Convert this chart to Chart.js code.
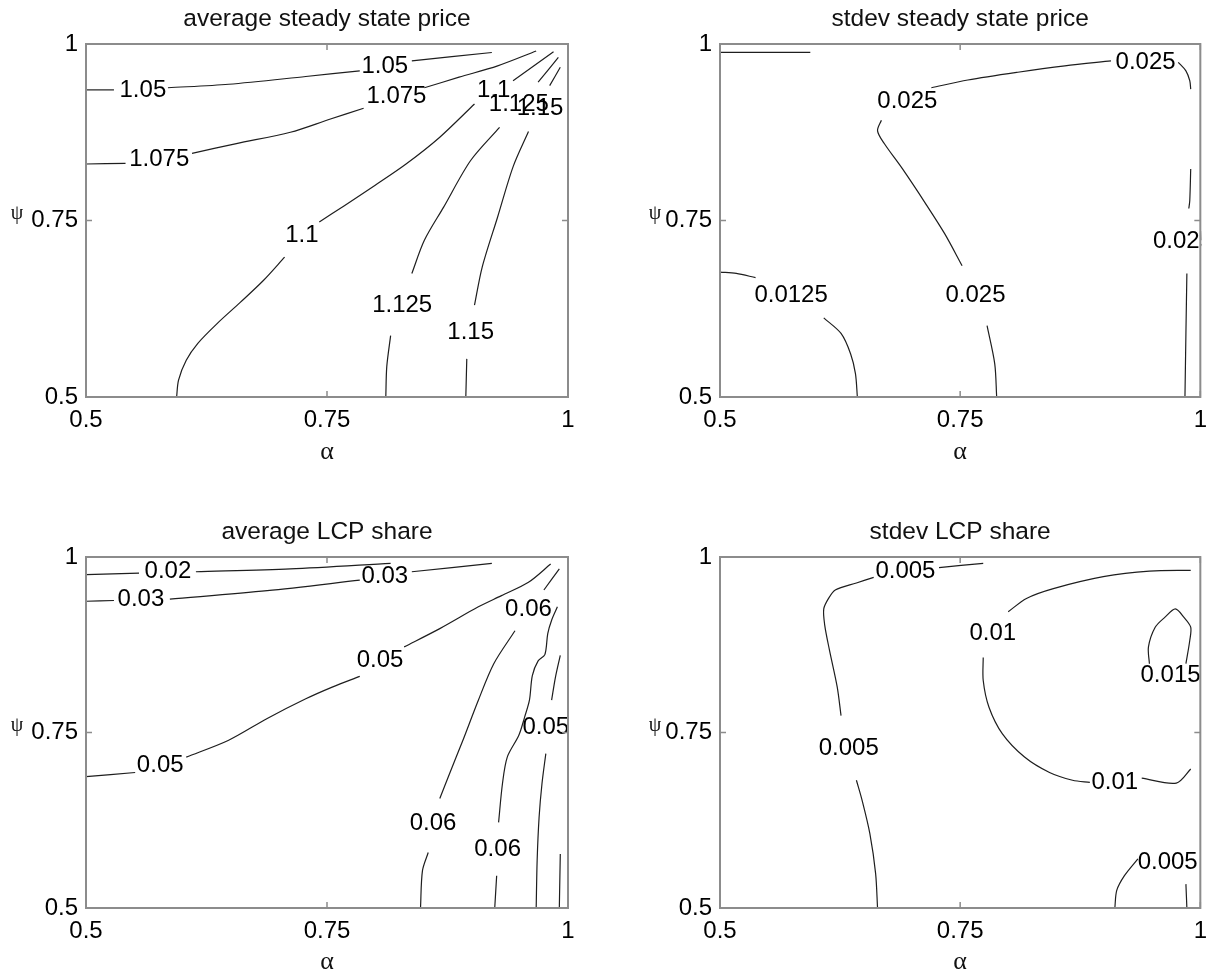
<!DOCTYPE html>
<html>
<head>
<meta charset="utf-8">
<script src="https://cdn.jsdelivr.net/npm/chart.js@4.4.1/dist/chart.umd.min.js"></script>
<style>
  html, body { margin: 0; padding: 0; background: #fff; }
  #wrap { position: relative; width: 1216px; height: 974px; }
  canvas { position: absolute; }
</style>
</head>
<body>
<div id="wrap">
  <canvas id="c1" width="608" height="487" style="left:0;top:0"></canvas>
  <canvas id="c2" width="608" height="487" style="left:608px;top:0"></canvas>
  <canvas id="c3" width="608" height="487" style="left:0;top:487px"></canvas>
  <canvas id="c4" width="608" height="487" style="left:608px;top:487px"></canvas>
</div>
<script>
// axes: alpha (x) and psi (y)
const alphaTicks = [0.5, 0.75, 1];
const psiTicks = [0.5, 0.75, 1];
const tickText = ['0.5', '0.75', '1'];

// --- average steady state price: contour segments [alpha, psi], broken where labels sit ---
const price105 = [
  [[0.5, 0.935], [0.529, 0.935]],
  [[0.585, 0.938], [0.648, 0.943], [0.728, 0.954], [0.784, 0.962]],
  [[0.838, 0.976], [0.921, 0.988]]
];
const price1075 = [
  [[0.5, 0.830], [0.541, 0.831]],
  [[0.610, 0.845], [0.656, 0.859], [0.712, 0.875], [0.752, 0.893], [0.788, 0.909]],
  [[0.851, 0.938], [0.887, 0.953], [0.927, 0.969], [0.967, 0.990]]
];
const price110 = [
  [[0.594, 0.5], [0.596, 0.524], [0.604, 0.552], [0.616, 0.576], [0.636, 0.604], [0.660, 0.634], [0.684, 0.665], [0.706, 0.698]],
  [[0.742, 0.748], [0.768, 0.771], [0.800, 0.800], [0.832, 0.830], [0.867, 0.868], [0.903, 0.915]],
  [[0.943, 0.948], [0.985, 0.989]]
];
const price1125 = [
  [[0.811, 0.5], [0.812, 0.543], [0.816, 0.587]],
  [[0.838, 0.675], [0.851, 0.722], [0.871, 0.769], [0.899, 0.835], [0.929, 0.882]],
  [[0.969, 0.946], [0.990, 0.981]]
];
const price115 = [
  [[0.894, 0.5], [0.895, 0.554]],
  [[0.903, 0.630], [0.911, 0.684], [0.927, 0.755], [0.943, 0.826], [0.959, 0.876]],
  [[0.981, 0.941], [0.992, 0.967]]
];
const priceLabels = [
  ['1.05', 0.559, 0.935], ['1.05', 0.810, 0.969],
  ['1.075', 0.576, 0.837], ['1.075', 0.822, 0.926],
  ['1.1', 0.724, 0.729], ['1.1', 0.923, 0.935],
  ['1.125', 0.828, 0.630], ['1.125', 0.949, 0.915],
  ['1.15', 0.899, 0.592], ['1.15', 0.971, 0.909]
];

// --- stdev steady state price ---
const sdPriceTop = [
  [[0.5, 0.988], [0.594, 0.988]]
];
const sdPrice0125 = [
  [[0.5, 0.677], [0.517, 0.675], [0.537, 0.669]],
  [[0.608, 0.612], [0.626, 0.590], [0.636, 0.561], [0.641, 0.533], [0.643, 0.5]]
];
const sdPrice025 = [
  [[0.788, 0.5], [0.786, 0.547], [0.778, 0.601]],
  [[0.752, 0.686], [0.734, 0.731], [0.714, 0.774], [0.690, 0.823], [0.671, 0.859], [0.664, 0.877], [0.668, 0.892]],
  [[0.720, 0.938], [0.758, 0.949], [0.810, 0.960], [0.859, 0.969], [0.907, 0.976]],
  [[0.977, 0.974], [0.985, 0.962], [0.989, 0.948], [0.990, 0.936]]
];
const sdPrice025Right = [
  [[0.990, 0.823], [0.989, 0.778], [0.988, 0.767]],
  [[0.986, 0.675], [0.985, 0.590], [0.984, 0.5]]
];
const sdPriceLabels = [
  ['0.0125', 0.574, 0.644], ['0.025', 0.766, 0.644], ['0.025', 0.695, 0.919],
  ['0.025', 0.943, 0.974], ['0.025', 0.982, 0.721]
];

// --- average LCP share ---
const lcp002 = [
  [[0.5, 0.975], [0.555, 0.977]],
  [[0.614, 0.979], [0.712, 0.983], [0.816, 0.991]]
];
const lcp003 = [
  [[0.5, 0.937], [0.529, 0.938]],
  [[0.587, 0.940], [0.688, 0.952], [0.784, 0.967]],
  [[0.838, 0.979], [0.921, 0.991]]
];
const lcp005 = [
  [[0.5, 0.687], [0.551, 0.693]],
  [[0.604, 0.715], [0.648, 0.739], [0.688, 0.770], [0.728, 0.798], [0.756, 0.815], [0.784, 0.830]],
  [[0.830, 0.872], [0.867, 0.898], [0.907, 0.929], [0.931, 0.945], [0.959, 0.964], [0.982, 0.990]]
];
const lcp006 = [
  [[0.847, 0.5], [0.849, 0.553], [0.855, 0.579]],
  [[0.867, 0.656], [0.877, 0.691], [0.891, 0.739], [0.907, 0.796], [0.923, 0.848], [0.945, 0.895]],
  [[0.975, 0.953], [0.991, 0.983]]
];
const lcp006b = [
  [[0.989, 0.929], [0.983, 0.910], [0.979, 0.891], [0.976, 0.861], [0.969, 0.852], [0.963, 0.831], [0.960, 0.796],
   [0.955, 0.772], [0.949, 0.746], [0.937, 0.715], [0.932, 0.677], [0.928, 0.622]],
  [[0.926, 0.546], [0.924, 0.5]]
];
const lcp005b = [
  [[0.992, 0.860], [0.987, 0.829], [0.983, 0.796]],
  [[0.977, 0.720], [0.973, 0.677], [0.970, 0.629], [0.968, 0.568], [0.967, 0.5]]
];
const lcpEdge = [
  [[0.992, 0.577], [0.991, 0.5]]
];
const lcpLabels = [
  ['0.02', 0.585, 0.979], ['0.03', 0.557, 0.939], ['0.03', 0.810, 0.972],
  ['0.05', 0.577, 0.703], ['0.05', 0.805, 0.853],
  ['0.06', 0.860, 0.620], ['0.06', 0.927, 0.584], ['0.06', 0.959, 0.926], ['0.05', 0.977, 0.758]
];

// --- stdev LCP share ---
const sdLcp005 = [
  [[0.664, 0.5], [0.662, 0.549], [0.656, 0.606], [0.648, 0.653], [0.642, 0.682]],
  [[0.626, 0.774], [0.622, 0.815], [0.614, 0.867], [0.609, 0.903], [0.608, 0.926], [0.613, 0.941],
   [0.620, 0.953], [0.642, 0.963], [0.660, 0.971]],
  [[0.728, 0.985], [0.774, 0.991]]
];
const sdLcp01 = [
  [[0.990, 0.981], [0.947, 0.980], [0.899, 0.972], [0.847, 0.955], [0.819, 0.941], [0.800, 0.922]],
  [[0.774, 0.857], [0.774, 0.824], [0.780, 0.786], [0.794, 0.748], [0.817, 0.715], [0.843, 0.693], [0.867, 0.682], [0.885, 0.679]],
  [[0.939, 0.685], [0.975, 0.678], [0.990, 0.698]]
];
const sdLcp015 = [
  [[0.947, 0.848], [0.946, 0.872], [0.953, 0.900], [0.963, 0.914], [0.974, 0.926], [0.983, 0.914],
   [0.990, 0.900], [0.989, 0.881], [0.985, 0.848]]
];
const sdLcp005b = [
  [[0.911, 0.5], [0.913, 0.525], [0.921, 0.546], [0.935, 0.570]],
  [[0.985, 0.534], [0.986, 0.5]]
];
const sdLcpLabels = [
  ['0.005', 0.634, 0.727], ['0.005', 0.693, 0.980], ['0.01', 0.784, 0.891],
  ['0.01', 0.911, 0.679], ['0.015', 0.969, 0.831], ['0.005', 0.966, 0.565]
];

const SANS = '"Liberation Sans", Arial, Helvetica, sans-serif';
const SERIF = '"Liberation Serif", "Times New Roman", serif';

// contour labels, upright, clipped at the right edge of the axes
const contourLabels = {
  id: 'contourLabels',
  afterDatasetsDraw(chart, args, opts) {
    const { ctx, chartArea: a, scales: { x, y } } = chart;
    ctx.save();
    ctx.beginPath();
    ctx.rect(0, 0, a.right + 1, chart.height);
    ctx.clip();
    ctx.font = '24px ' + SANS;
    ctx.fillStyle = '#000';
    ctx.textAlign = 'center';
    ctx.textBaseline = 'middle';
    opts.items.forEach(([t, av, pv]) => ctx.fillText(t, x.getPixelForValue(av), y.getPixelForValue(pv)));
    ctx.restore();
  }
};

// matlab-like box with inward ticks, plus the upright psi label
const frame = {
  id: 'frame',
  afterDatasetsDraw(chart, args, opts) {
    const { ctx, chartArea: a, scales: { x, y } } = chart;
    ctx.save();
    ctx.strokeStyle = '#8c8c8c';
    ctx.lineWidth = 2;
    ctx.strokeRect(a.left, a.top, a.right - a.left, a.bottom - a.top);
    ctx.lineWidth = 1.5;
    ctx.beginPath();
    alphaTicks.forEach(v => {
      const px = x.getPixelForValue(v);
      ctx.moveTo(px, a.bottom); ctx.lineTo(px, a.bottom - 6);
      ctx.moveTo(px, a.top); ctx.lineTo(px, a.top + 6);
    });
    psiTicks.forEach(v => {
      const py = y.getPixelForValue(v);
      ctx.moveTo(a.left, py); ctx.lineTo(a.left + 6, py);
      ctx.moveTo(a.right, py); ctx.lineTo(a.right - 6, py);
    });
    ctx.stroke();
    ctx.fillStyle = '#111';
    ctx.font = '20px ' + SERIF;
    ctx.textAlign = 'center';
    ctx.textBaseline = 'middle';
    ctx.fillText('ψ', a.left + opts.psiDx, y.getPixelForValue(0.75) - 7);
    ctx.restore();
  }
};

function toDatasets(contours) {
  return contours.flatMap(c => c.map(seg => ({
    data: seg.map(([a, p]) => ({ x: a, y: p })),
    showLine: true,
    borderColor: '#1e1e1e',
    borderWidth: 1.2,
    pointRadius: 0,
    tension: 0.3,
    fill: false
  })));
}

function tickLabel(v) {
  const i = alphaTicks.indexOf(v);
  return i >= 0 ? tickText[i] : '';
}

function makeChart(id, title, contours, labels, geo) {
  return new Chart(document.getElementById(id), {
    type: 'scatter',
    data: { datasets: toDatasets(contours) },
    options: {
      responsive: false,
      animation: false,
      events: [],
      layout: { padding: { left: 0, right: geo.right, top: geo.top, bottom: 0 } },
      plugins: {
        legend: { display: false },
        tooltip: { enabled: false },
        title: {
          display: true, text: title, fullSize: false, color: '#111',
          font: { family: SANS, size: 24.5, weight: 'normal', lineHeight: 1.2 },
          padding: { top: 5, bottom: 9.6 }
        },
        contourLabels: { items: labels },
        frame: { psiDx: geo.psiDx }
      },
      scales: {
        x: {
          type: 'linear', min: 0.5, max: 1,
          afterBuildTicks: s => { s.ticks = alphaTicks.map(v => ({ value: v })); },
          afterFit: s => { s.height = geo.xh; },
          ticks: { callback: tickLabel, color: '#000', font: { family: SANS, size: 24 }, padding: 9, maxRotation: 0, autoSkip: false },
          grid: { display: false, drawTicks: false },
          border: { display: false },
          title: {
            display: true, text: 'α', color: '#111',
            font: { family: SERIF, size: 26, lineHeight: 1 },
            padding: { top: 0, bottom: geo.ab }
          }
        },
        y: {
          type: 'linear', min: 0.5, max: 1,
          afterBuildTicks: s => { s.ticks = psiTicks.map(v => ({ value: v })); },
          afterFit: s => { s.width = geo.yw; },
          ticks: { callback: tickLabel, color: '#000', font: { family: SANS, size: 24 }, padding: 8, autoSkip: false },
          grid: { display: false, drawTicks: false },
          border: { display: false }
        }
      }
    },
    plugins: [contourLabels, frame]
  });
}

const leftTop = { right: 40, top: 0, xh: 90, yw: 86, ab: 22, psiDx: -69 };
const rightTop = { right: 15, top: 0, xh: 90, yw: 112, ab: 22, psiDx: -65 };
const leftBottom = { right: 40, top: 26, xh: 66, yw: 86, ab: -1, psiDx: -69 };
const rightBottom = { right: 15, top: 26, xh: 66, yw: 112, ab: -1, psiDx: -65 };

makeChart('c1', 'average steady state price',
  [price105, price1075, price110, price1125, price115], priceLabels, leftTop);
makeChart('c2', 'stdev steady state price',
  [sdPriceTop, sdPrice0125, sdPrice025, sdPrice025Right], sdPriceLabels, rightTop);
makeChart('c3', 'average LCP share',
  [lcp002, lcp003, lcp005, lcp006, lcp006b, lcp005b, lcpEdge], lcpLabels, leftBottom);
makeChart('c4', 'stdev LCP share',
  [sdLcp005, sdLcp01, sdLcp015, sdLcp005b], sdLcpLabels, rightBottom);
</script>
</body>
</html>
